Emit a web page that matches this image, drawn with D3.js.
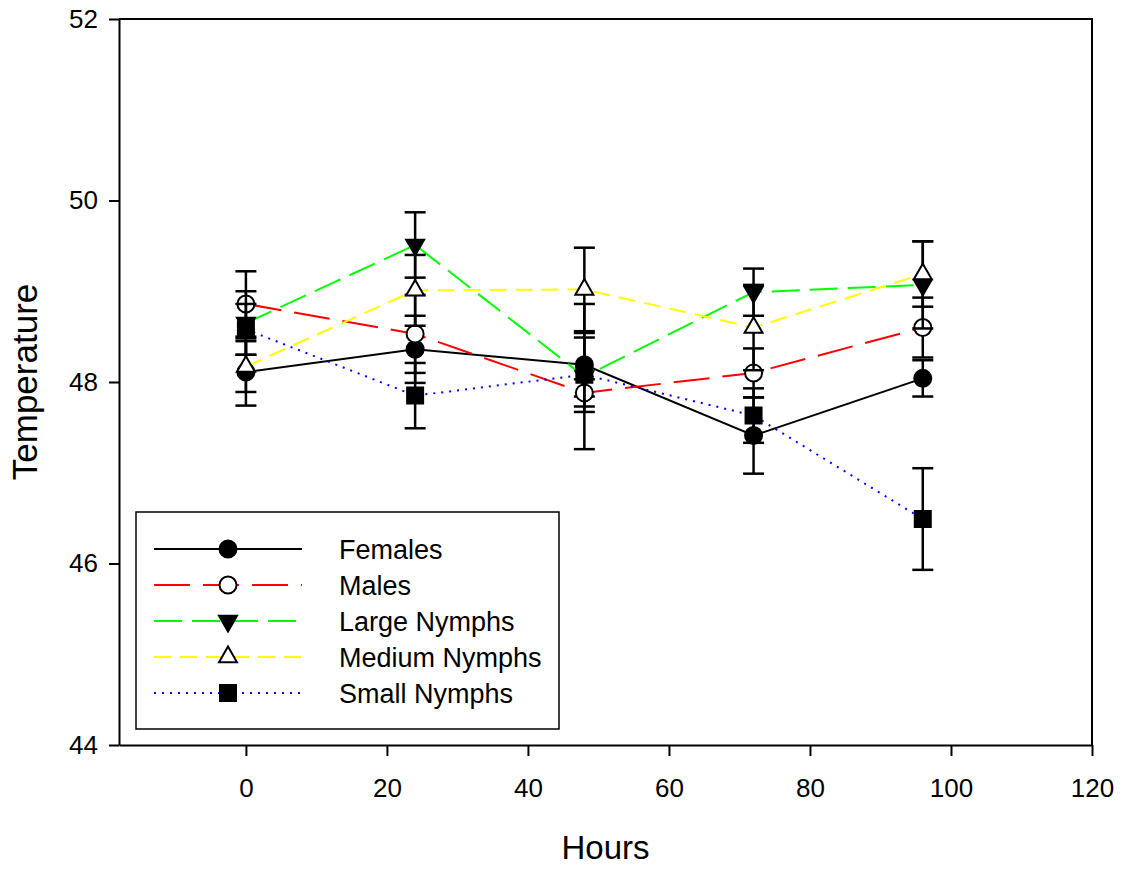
<!DOCTYPE html>
<html>
<head>
<meta charset="utf-8">
<script src="https://cdn.jsdelivr.net/npm/d3@7"></script>
<style>
  body { margin: 0; background: #fff; }
  svg { display: block; font-family: "Liberation Sans", Arial, sans-serif; }
</style>
</head>
<body>
<div id="chart"></div>
<script>
// data (mean temperature and error per sampling hour)
const hours = [0, 24, 48, 72, 96];

const females      = [48.11, 48.36, 48.19, 47.41, 48.04];
const femalesErr   = [0.37, 0.37, 0.35, 0.42, 0.20];
const males        = [48.86, 48.53, 47.88, 48.10, 48.60];
const malesErr     = [0.36, 0.43, 0.15, 0.27, 0.33];
const largeNymphs  = [48.65, 49.51, 48.06, 48.99, 49.07];
const largeErr     = [0.35, 0.36, 0.80, 0.26, 0.48];
const mediumNymphs = [48.17, 49.01, 49.02, 48.60, 49.19];
const mediumErr    = [0.28, 0.39, 0.46, 0.47, 0.36];
const smallNymphs  = [48.58, 47.85, 48.08, 47.63, 46.49];
const smallErr     = [0.28, 0.36, 0.41, 0.30, 0.56];

const seriesNames = ['Females', 'Males', 'Large Nymphs', 'Medium Nymphs', 'Small Nymphs'];
const xTicks = [0, 20, 40, 60, 80, 100, 120];
const yTicks = [44, 46, 48, 50, 52];

const width = 1126;
const height = 869;

const svg = d3.select('#chart')
    .append('svg')
    .attr('width', width)
    .attr('height', height);

const x = d3.scaleLinear().domain([-18, 120]).range([119, 1092]);
const y = d3.scaleLinear().domain([44, 52]).range([745, 19]);

// frame (top and right sides)
svg.append('path')
    .attr('d', `M${x.range()[0]},${y.range()[1]}H${x.range()[1]}V${y.range()[0]}`)
    .attr('fill', 'none')
    .attr('stroke', '#000')
    .attr('stroke-width', 2);

// axes
const yAxis = svg.append('g')
    .attr('transform', `translate(${x.range()[0]},0)`)
    .call(d3.axisLeft(y).tickValues(yTicks).tickSize(10).tickSizeOuter(0).tickPadding(11));

const xAxis = svg.append('g')
    .attr('transform', `translate(0,${y.range()[0]})`)
    .call(d3.axisBottom(x).tickValues(xTicks).tickSize(11).tickSizeOuter(0).tickPadding(23));

[xAxis, yAxis].forEach(ax => {
    ax.attr('font-family', null).attr('font-size', 26);
    ax.selectAll('path, line').attr('stroke', '#000').attr('stroke-width', 2);
    ax.selectAll('text').attr('fill', '#000');
});

// axis titles
svg.append('text')
    .attr('x', (x.range()[0] + x.range()[1]) / 2)
    .attr('y', 859)
    .attr('text-anchor', 'middle')
    .attr('font-size', 33)
    .text('Hours');

svg.append('text')
    .attr('transform', `translate(37,${(y.range()[0] + y.range()[1]) / 2}) rotate(-90)`)
    .attr('text-anchor', 'middle')
    .attr('font-size', 35)
    .text('Temperature');

// series styles
const series = [
    {values: females, errors: femalesErr, color: '#000000', dash: null, width: 2,
        symbol: d3.symbolCircle, size: 227, fill: '#000', rotate: 0},
    {values: males, errors: malesErr, color: '#ff0000', dash: '36,13', width: 2,
        symbol: d3.symbolCircle, size: 227, fill: '#fff', rotate: 0},
    {values: largeNymphs, errors: largeErr, color: '#00ff00', dash: '28,10', width: 2,
        symbol: d3.symbolTriangle, size: 140, fill: '#000', rotate: 180},
    {values: mediumNymphs, errors: mediumErr, color: '#ffff00', dash: '17,9', width: 2,
        symbol: d3.symbolTriangle, size: 140, fill: '#fff', rotate: 0},
    {values: smallNymphs, errors: smallErr, color: '#0000ff', dash: '2,6', width: 2,
        symbol: d3.symbolSquare, size: 256, fill: '#000', rotate: 0}
];

const line = d3.line()
    .x((d, i) => x(hours[i]))
    .y(d => y(d));

const capHalf = 10.5;

series.forEach(s => {
    const g = svg.append('g');

    g.append('path')
        .attr('d', line(s.values))
        .attr('fill', 'none')
        .attr('stroke', s.color)
        .attr('stroke-width', s.width)
        .attr('stroke-dasharray', s.dash);

    // error bars
    const bars = g.selectAll('.err')
        .data(s.values)
        .enter()
        .append('g')
        .attr('stroke', '#000')
        .attr('stroke-width', 2.5);
    bars.append('line')
        .attr('x1', (d, i) => x(hours[i]))
        .attr('x2', (d, i) => x(hours[i]))
        .attr('y1', (d, i) => y(d + s.errors[i]))
        .attr('y2', (d, i) => y(d - s.errors[i]));
    [1, -1].forEach(sign => {
        bars.append('line')
            .attr('x1', (d, i) => x(hours[i]) - capHalf)
            .attr('x2', (d, i) => x(hours[i]) + capHalf)
            .attr('y1', (d, i) => y(d + sign * s.errors[i]))
            .attr('y2', (d, i) => y(d + sign * s.errors[i]));
    });

    // markers
    g.selectAll('.mk')
        .data(s.values)
        .enter()
        .append('path')
        .attr('d', d3.symbol().type(s.symbol).size(s.size))
        .attr('transform', (d, i) => `translate(${x(hours[i])},${y(d)}) rotate(${s.rotate})`)
        .attr('fill', s.fill)
        .attr('stroke', '#000')
        .attr('stroke-width', 2);
});

// legend
const legend = svg.append('g');
legend.append('rect')
    .attr('x', 136)
    .attr('y', 512)
    .attr('width', 423)
    .attr('height', 217)
    .attr('fill', '#fff')
    .attr('stroke', '#000')
    .attr('stroke-width', 1.5);

series.forEach((s, i) => {
    const ry = 549 + i * 36;
    legend.append('line')
        .attr('x1', 154).attr('x2', 302)
        .attr('y1', ry).attr('y2', ry)
        .attr('stroke', s.color)
        .attr('stroke-width', s.width)
        .attr('stroke-dasharray', s.dash);
    legend.append('path')
        .attr('d', d3.symbol().type(s.symbol).size(s.size))
        .attr('transform', `translate(228,${ry}) rotate(${s.rotate})`)
        .attr('fill', s.fill)
        .attr('stroke', '#000')
        .attr('stroke-width', 2);
    legend.append('text')
        .attr('x', 339)
        .attr('y', ry + 10)
        .attr('font-size', 27)
        .text(seriesNames[i]);
});
</script>
</body>
</html>
